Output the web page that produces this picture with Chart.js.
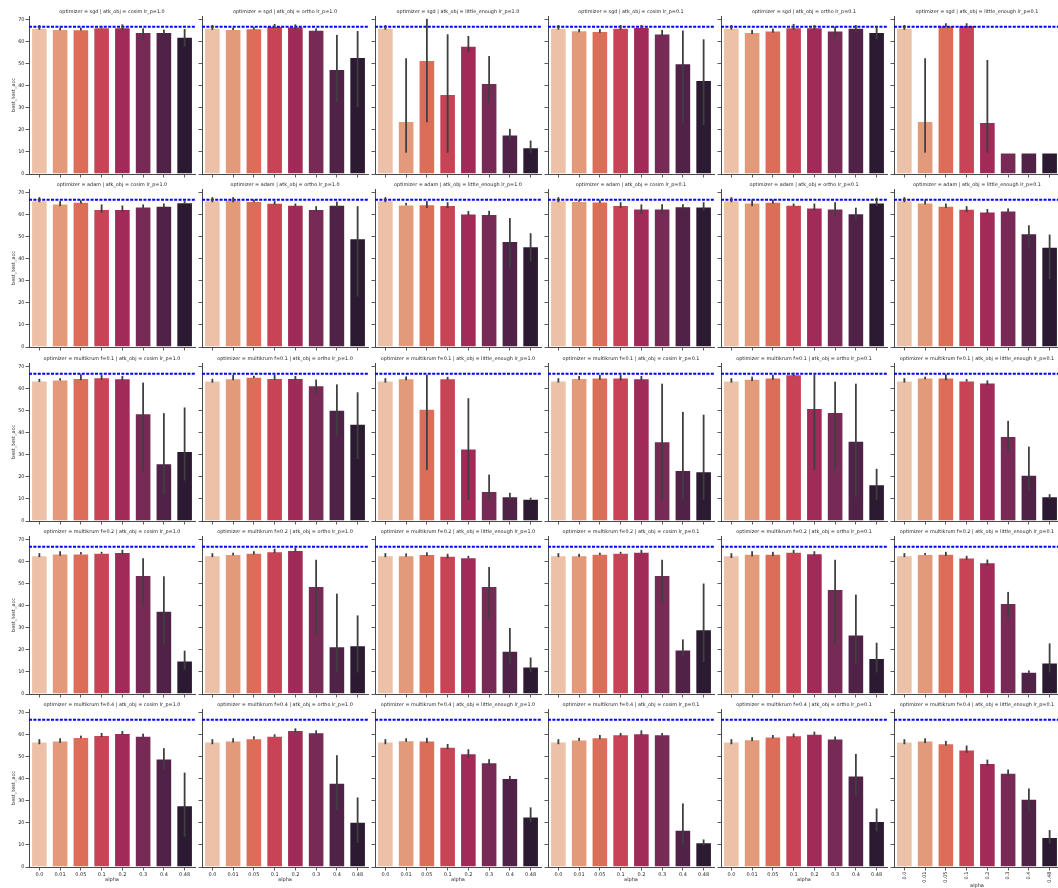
<!DOCTYPE html>
<html>
<head>
<meta charset="utf-8">
<script src="https://cdn.jsdelivr.net/npm/chart.js@4/dist/chart.umd.min.js"></script>
<style>
  html, body { margin: 0; padding: 0; background: #fff; }
  body { width: 1058px; height: 888px; overflow: hidden; position: relative; }
  canvas { position: absolute; }
</style>
</head>
<body>
<script>
// ---- data -------------------------------------------------------------
const alphaLabels = ['0.0', '0.01', '0.05', '0.1', '0.2', '0.3', '0.4', '0.48'];
const optimizers = ['sgd', 'adam', 'multikrum f=0.1', 'multikrum f=0.2', 'multikrum f=0.4'];
const attacks = ['cosim lr_p=1.0', 'ortho lr_p=1.0', 'little_enough lr_p=1.0',
                 'cosim lr_p=0.1', 'ortho lr_p=0.1', 'little_enough lr_p=0.1'];
const yTicks = [0, 10, 20, 30, 40, 50, 60, 70];
const yMax = 71.8;
const cleanAcc = 66.9;   // accuracy without attack (dashed reference)

// mean best_test_acc per alpha, one row per attack setting; low/high = CI ends
const sgdMean = [
  [66.5, 65.9, 65.8, 66.7, 66.7, 64.5, 64.5, 62.4],
  [66.5, 65.9, 66.2, 67.3, 67.0, 65.6, 47.7, 53.2],
  [66.5, 24.1, 51.8, 36.4, 58.3, 41.4, 18.0, 12.1],
  [66.5, 65.3, 65.0, 66.5, 66.8, 63.9, 50.3, 42.7],
  [66.5, 64.5, 65.2, 66.7, 66.7, 65.2, 66.5, 64.5],
  [66.5, 24.1, 67.6, 67.7, 23.6, 9.8, 9.8, 9.8]
];
const sgdLow = [
  [65.6, 65.3, 65.2, 66.2, 65.6, 61.2, 63.6, 57.9],
  [65.5, 65.4, 65.6, 66.5, 65.6, 65.0, 32.7, 30.3],
  [65.6, 9.7, 23.5, 9.7, 55.3, 32.4, 15.2, 9.7],
  [65.6, 64.4, 64.2, 65.5, 66.2, 62.4, 23.0, 22.3],
  [65.6, 63.6, 64.2, 65.5, 65.6, 62.0, 64.5, 61.2],
  [65.5, 9.7, 67.0, 67.0, 9.7, 9.8, 9.8, 9.8]
];
const sgdHigh = [
  [67.7, 66.5, 66.5, 67.3, 68.0, 66.2, 65.6, 65.9],
  [67.7, 66.5, 66.7, 68.2, 68.0, 66.2, 63.2, 65.0],
  [67.7, 52.6, 70.5, 63.5, 62.7, 53.6, 20.5, 15.2],
  [67.7, 65.9, 65.8, 67.7, 67.7, 65.5, 65.2, 61.2],
  [67.7, 65.5, 66.1, 68.2, 67.7, 67.0, 67.7, 67.0],
  [67.7, 52.6, 68.5, 68.5, 51.8, 9.8, 9.8, 9.8]
];

const adamMean = [
  [66.7, 65.2, 66.0, 62.7, 62.7, 63.9, 64.2, 65.8],
  [66.7, 67.0, 66.4, 65.5, 64.6, 62.7, 64.6, 49.4],
  [66.7, 64.8, 64.9, 64.5, 60.7, 60.4, 48.2, 45.8],
  [66.7, 66.4, 66.1, 64.5, 62.9, 62.9, 64.0, 63.9],
  [66.7, 65.7, 66.0, 64.6, 63.4, 62.9, 60.8, 65.7],
  [66.7, 65.7, 64.2, 62.8, 61.6, 62.0, 51.7, 45.5]
];
const adamLow = [
  [65.8, 64.0, 65.2, 61.0, 61.4, 62.8, 63.3, 65.4],
  [65.8, 65.8, 65.8, 64.8, 64.0, 61.4, 63.0, 22.9],
  [65.8, 64.3, 63.2, 63.2, 59.8, 59.2, 36.1, 38.9],
  [65.8, 66.0, 65.5, 63.2, 60.5, 60.9, 62.6, 62.0],
  [65.8, 64.0, 65.2, 64.0, 62.0, 59.5, 57.5, 64.0],
  [65.8, 64.8, 63.2, 61.3, 60.6, 61.0, 45.2, 30.9]
];
const adamHigh = [
  [68.1, 66.3, 66.7, 64.8, 64.3, 64.8, 65.2, 66.3],
  [68.1, 68.1, 67.0, 66.3, 65.2, 64.0, 66.1, 64.0],
  [68.1, 65.5, 66.3, 65.8, 61.8, 61.9, 58.6, 51.7],
  [68.1, 66.8, 66.7, 65.8, 64.8, 64.9, 64.9, 65.8],
  [68.1, 67.0, 67.0, 65.2, 65.2, 65.8, 63.3, 67.8],
  [68.1, 66.7, 65.2, 64.0, 62.7, 63.0, 55.3, 51.1]
];

const krum1Mean = [
  [63.8, 64.3, 65.0, 65.3, 64.9, 49.0, 26.2, 31.8],
  [63.8, 64.9, 65.5, 65.0, 65.0, 61.7, 50.5, 44.2],
  [63.8, 64.9, 51.0, 64.9, 32.9, 13.6, 11.2, 10.1],
  [63.9, 65.0, 65.2, 65.2, 64.9, 36.2, 23.2, 22.6],
  [63.9, 64.6, 65.2, 66.7, 51.4, 49.5, 36.5, 16.7],
  [63.9, 65.2, 65.2, 63.9, 62.9, 38.6, 21.0, 11.3]
];
const krum1Low = [
  [63.2, 63.8, 64.0, 64.2, 64.0, 22.6, 12.1, 18.4],
  [62.9, 64.0, 65.0, 64.2, 64.2, 57.9, 38.8, 28.1],
  [62.9, 64.0, 23.2, 64.2, 9.7, 9.7, 9.4, 9.7],
  [62.9, 64.2, 64.2, 63.9, 64.0, 9.7, 9.7, 9.7],
  [62.9, 63.6, 64.2, 65.8, 23.2, 23.2, 10.9, 9.7],
  [62.9, 64.4, 64.0, 63.3, 61.7, 32.0, 13.9, 10.1]
];
const krum1High = [
  [64.6, 64.9, 66.7, 66.3, 65.9, 62.9, 49.0, 51.6],
  [64.6, 66.4, 66.0, 66.4, 65.9, 64.3, 62.1, 58.5],
  [64.9, 65.7, 66.5, 65.5, 55.8, 21.1, 12.8, 10.6],
  [64.9, 65.9, 66.4, 66.4, 65.9, 62.4, 49.6, 48.3],
  [64.9, 65.6, 66.4, 67.4, 66.4, 63.3, 62.4, 23.7],
  [64.9, 65.6, 66.7, 64.5, 63.9, 45.5, 33.8, 12.2]
];

const krum2Mean = [
  [63.0, 63.9, 63.9, 64.2, 64.5, 54.1, 37.8, 15.2],
  [63.0, 63.6, 64.2, 64.9, 65.4, 49.1, 21.7, 22.1],
  [63.0, 63.1, 63.6, 62.8, 62.2, 49.1, 19.7, 12.5],
  [63.0, 63.0, 63.7, 64.2, 64.6, 54.1, 20.2, 29.4],
  [63.0, 63.7, 63.7, 64.6, 64.0, 47.7, 27.0, 16.4],
  [63.0, 63.6, 63.7, 62.0, 59.9, 41.4, 10.1, 14.3]
];
const krum2Low = [
  [62.2, 62.8, 63.4, 63.7, 63.4, 39.9, 22.3, 11.0],
  [62.2, 63.0, 63.4, 64.0, 64.6, 26.8, 9.8, 9.8],
  [62.2, 62.4, 62.7, 61.6, 61.6, 34.0, 13.3, 9.9],
  [62.2, 62.3, 63.2, 63.7, 64.0, 41.4, 17.0, 14.5],
  [61.8, 62.5, 62.7, 64.0, 63.0, 22.6, 13.7, 9.8],
  [62.2, 63.1, 62.7, 61.0, 58.4, 34.8, 9.6, 9.8]
];
const krum2High = [
  [64.0, 64.9, 64.5, 64.6, 65.5, 61.7, 53.5, 19.7],
  [64.0, 64.2, 64.9, 66.0, 66.4, 61.0, 45.6, 35.7],
  [64.0, 63.9, 64.4, 63.7, 62.8, 57.7, 30.0, 16.6],
  [64.0, 63.7, 64.2, 64.6, 65.5, 61.0, 24.8, 50.2],
  [64.0, 64.9, 64.6, 65.5, 64.9, 61.0, 45.2, 23.3],
  [64.0, 64.1, 64.6, 62.8, 61.1, 46.4, 10.7, 23.0]
];

const krum4Mean = [
  [57.0, 57.5, 59.1, 60.0, 60.9, 59.7, 49.3, 28.1],
  [57.0, 57.5, 58.5, 59.7, 62.3, 61.2, 38.3, 20.6],
  [57.0, 57.6, 57.5, 54.7, 51.7, 47.6, 40.5, 23.0],
  [57.0, 57.9, 59.0, 60.3, 60.8, 60.3, 16.9, 11.2],
  [57.0, 58.1, 59.3, 59.9, 60.6, 58.4, 41.6, 20.9],
  [57.0, 57.5, 56.2, 53.4, 47.3, 42.8, 31.0, 13.6]
];
const krum4Low = [
  [55.8, 56.4, 58.5, 59.1, 60.0, 58.8, 44.3, 13.8],
  [55.8, 56.6, 58.0, 59.1, 61.2, 60.0, 25.9, 11.0],
  [55.8, 56.9, 56.3, 53.5, 49.7, 46.4, 39.9, 20.4],
  [55.8, 57.3, 58.1, 59.4, 60.0, 59.7, 9.8, 9.8],
  [55.8, 57.2, 58.5, 59.0, 60.0, 57.3, 32.2, 16.2],
  [55.8, 56.3, 55.2, 51.9, 45.8, 41.3, 25.4, 10.7]
];
const krum4High = [
  [58.1, 58.5, 59.7, 60.9, 61.8, 60.6, 54.0, 42.9],
  [58.1, 58.5, 59.4, 60.3, 63.0, 62.1, 50.8, 31.6],
  [58.1, 58.5, 58.7, 55.9, 53.5, 49.0, 41.4, 27.1],
  [58.1, 58.7, 60.0, 60.9, 62.1, 60.9, 28.9, 12.5],
  [58.1, 59.0, 60.0, 60.6, 61.5, 59.3, 51.4, 26.6],
  [58.1, 58.5, 57.3, 55.2, 48.8, 44.3, 35.7, 16.8]
];

const rowMeans = [sgdMean, adamMean, krum1Mean, krum2Mean, krum4Mean];
const rowLows = [sgdLow, adamLow, krum1Low, krum2Low, krum4Low];
const rowHighs = [sgdHigh, adamHigh, krum1High, krum2High, krum4High];

// ---- styling & grid layout -------------------------------------------
const barColors = ['#ecc1a7', '#e39a7a', '#dc6d58', '#c84356', '#a12a59', '#762a55', '#502247', '#2b1a31'];
const FONT = 'DejaVu Sans';
const INK = '#262626';
const SPINE = '#4a4a4a';

const axisX = [29, 202, 375, 548, 721, 894];   // left spine of each column
const zeroY = [174, 347, 521, 694, 867];       // y=0 pixel of each row
const PLOT_W = 166;
const PLOT_H = 158;
const LM = 29;      // room left of plot for ticks / labels
const RM = 2;
const TM = 16;      // room above plot for the facet title
const TITLE_SIZE = 4.9;
const TITLE_GAP = 4.3;   // from plot top to the title's middle

// facet title centred over the plot area, dashed reference line and error bars
const overlayPlugin = {
  id: 'overlay',
  afterDatasetsDraw(chart, args, opts) {
    const { ctx, chartArea } = chart;
    const ys = chart.scales.y;
    const meta = chart.getDatasetMeta(0);
    ctx.save();
    // reference accuracy
    const yr = ys.getPixelForValue(opts.ref);
    ctx.strokeStyle = '#0000ff';
    ctx.lineWidth = 2;
    ctx.setLineDash([3, 1.4]);
    ctx.beginPath();
    ctx.moveTo(chartArea.left, yr);
    ctx.lineTo(chartArea.right, yr);
    ctx.stroke();
    // confidence intervals
    ctx.setLineDash([]);
    ctx.strokeStyle = '#3f3f3f';
    ctx.lineWidth = 1.8;
    meta.data.forEach((bar, i) => {
      const y1 = ys.getPixelForValue(opts.low[i]);
      const y2 = ys.getPixelForValue(opts.high[i]);
      if (Math.abs(y1 - y2) < 0.3) return;
      ctx.beginPath();
      ctx.moveTo(bar.x, y1);
      ctx.lineTo(bar.x, y2);
      ctx.stroke();
    });
    ctx.restore();
  },
  afterDraw(chart, args, opts) {
    const { ctx, chartArea } = chart;
    ctx.save();
    ctx.fillStyle = INK;
    ctx.font = TITLE_SIZE + 'px "' + FONT + '"';
    ctx.textAlign = 'center';
    ctx.textBaseline = 'middle';
    ctx.fillText(opts.title, (chartArea.left + chartArea.right) / 2, chartArea.top - TITLE_GAP);
    ctx.restore();
  }
};

function makePanel(row, col) {
  const bottomRow = row === optimizers.length - 1;
  const rotated = col === attacks.length - 1;
  const bm = bottomRow ? 26 : 6;
  const w = LM + PLOT_W + RM;
  const h = TM + PLOT_H + bm;
  const canvas = document.createElement('canvas');
  canvas.width = w;
  canvas.height = h;
  canvas.style.left = (axisX[col] - LM) + 'px';
  canvas.style.top = (zeroY[row] - PLOT_H - TM) + 'px';
  canvas.style.width = w + 'px';
  canvas.style.height = h + 'px';
  document.body.appendChild(canvas);

  new Chart(canvas, {
    type: 'bar',
    data: {
      labels: alphaLabels,
      datasets: [{
        data: rowMeans[row][col],
        backgroundColor: barColors,
        borderColor: 'rgba(255,255,255,0.55)',
        borderWidth: 1,
        barPercentage: 0.8,
        categoryPercentage: 1.0
      }]
    },
    options: {
      responsive: false,
      animation: false,
      devicePixelRatio: 1,
      layout: { padding: { left: 0, right: RM, top: TM, bottom: 0 } },
      plugins: {
        legend: { display: false },
        tooltip: { enabled: false },
        title: { display: false },
        overlay: {
          ref: cleanAcc,
          low: rowLows[row][col],
          high: rowHighs[row][col],
          title: 'optimizer = ' + optimizers[row] + ' | atk_obj = ' + attacks[col]
        }
      },
      scales: {
        x: {
          offset: true,
          grid: { display: true, drawOnChartArea: false, drawTicks: true, tickLength: 3.5,
                  tickWidth: 0.9, color: SPINE, offset: false },
          border: { display: true, color: SPINE, width: 1 },
          ticks: {
            display: bottomRow, autoSkip: false,
            minRotation: rotated ? 90 : 0, maxRotation: rotated ? 90 : 0,
            color: INK, padding: 1,
            font: { family: FONT, size: 5 }
          },
          title: {
            display: bottomRow, text: 'alpha', color: INK,
            font: { family: FONT, size: 5 },
            padding: { top: 0, bottom: rotated ? 4.3 : 10 }
          },
          afterFit(scale) { scale.height = bm; }
        },
        y: {
          min: 0,
          max: yMax,
          afterBuildTicks(scale) { scale.ticks = yTicks.map(v => ({ value: v })); },
          grid: { display: true, drawOnChartArea: false, drawTicks: true, tickLength: 3.5,
                  tickWidth: 0.9, color: SPINE },
          border: { display: true, color: SPINE, width: 1 },
          ticks: {
            display: col === 0, color: INK, padding: 1,
            font: { family: FONT, size: 5 }
          },
          title: {
            display: col === 0, text: 'best_test_acc', color: INK,
            font: { family: FONT, size: 5 },
            padding: { top: 10.8, bottom: 0 }
          },
          afterFit(scale) { scale.width = LM; }
        }
      }
    },
    plugins: [overlayPlugin]
  });
}

for (let r = 0; r < optimizers.length; r++) {
  for (let c = 0; c < attacks.length; c++) {
    makePanel(r, c);
  }
}
</script>
</body>
</html>
